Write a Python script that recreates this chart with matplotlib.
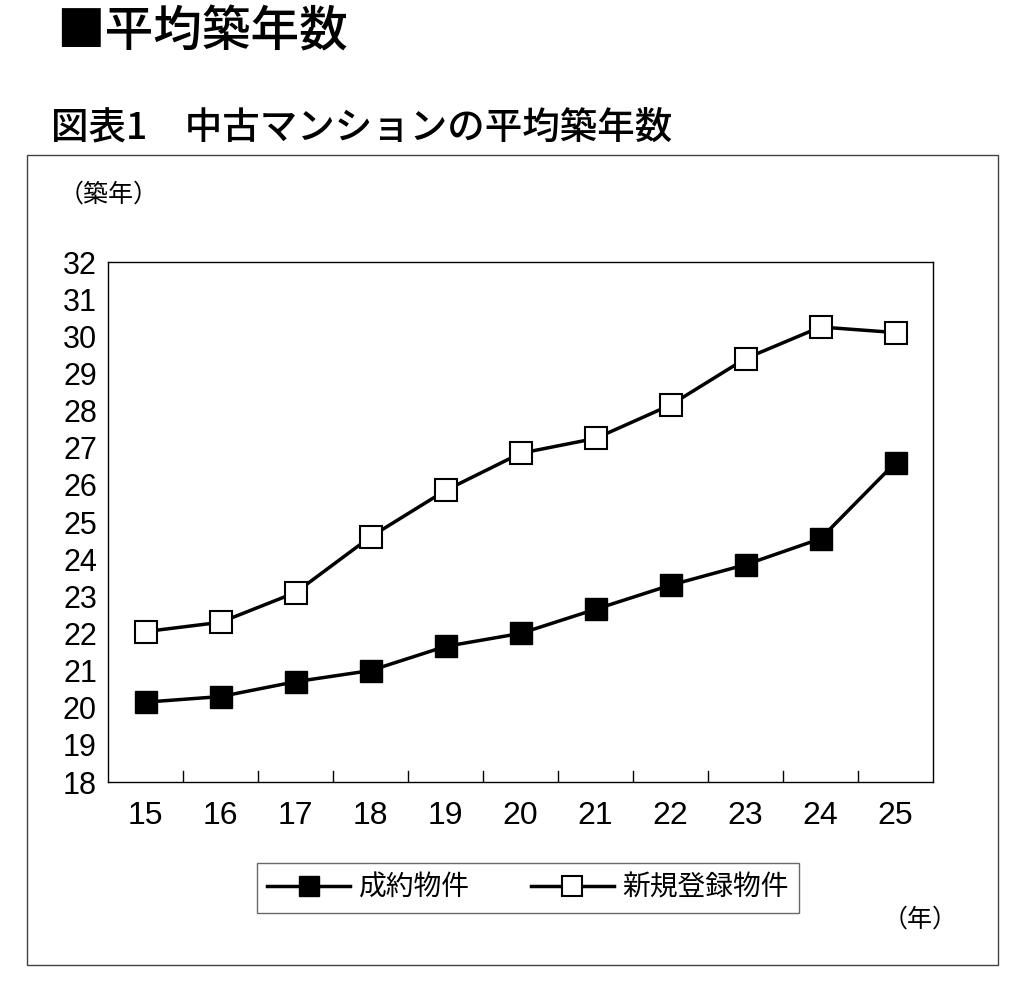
import matplotlib
matplotlib.use("Agg")
import matplotlib.pyplot as plt
from matplotlib.patches import Rectangle
from matplotlib.lines import Line2D

plt.rcParams['font.family'] = ['Noto Sans CJK JP', 'DejaVu Sans']

years = ['15', '16', '17', '18', '19', '20', '21', '22', '23', '24', '25']
contracted = [20.15, 20.3, 20.7, 21.0, 21.65, 22.0, 22.65, 23.3, 23.85, 24.55, 26.6]
registered = [22.05, 22.3, 23.1, 24.6, 25.85, 26.85, 27.25, 28.15, 29.4, 30.25, 30.1]

fig = plt.figure(figsize=(10.24, 9.99), dpi=100)
fig.text(0.055, 0.968, '■平均築年数', fontsize=35, va='center', weight='medium')
fig.text(0.05, 0.872, '図表1　中古マンションの平均築年数', fontsize=27, va='center', weight='medium')
fig.patches.append(Rectangle((27/1024, 1-965/999), 971/1024, 810/999, transform=fig.transFigure,
                             fill=False, edgecolor='#444444', lw=1))
fig.text(0.057, 0.805, '（築年）', fontsize=18, va='center')
fig.text(0.862, 0.079, '（年）', fontsize=18, va='center')

ax = fig.add_axes([108/1024, 217/999, 825/1024, 520/999])
x = list(range(len(years)))
ax.plot(x, contracted, color='black', lw=2.5, marker='s', ms=16, mfc='black', mec='black', label='成約物件')
ax.plot(x, registered, color='black', lw=2.5, marker='s', ms=16, mfc='white', mec='black', mew=1.5, label='新規登録物件')
ax.set_xlim(-0.5, len(years) - 0.5)
ax.set_ylim(18, 32)
ax.set_yticks(range(18, 33))
ax.set_xticks(x)
ax.set_xticklabels(years, family=['Liberation Sans', 'DejaVu Sans'], fontsize=23)
ax.set_yticklabels([str(v) for v in range(18, 33)], family=['Liberation Sans', 'DejaVu Sans'], fontsize=22)
ax.tick_params(axis='x', length=0, pad=14)
ax.tick_params(axis='y', length=0, pad=8)
for b in [i + 0.5 for i in range(len(years) - 1)]:
    ax.plot([b, b], [18, 18.3], color='black', lw=1)
for s in ax.spines.values():
    s.set_linewidth(1)

leg = fig.legend(handles=[Line2D([], [], color='black', lw=2.5, marker='s', ms=14, mfc='black'),
                          Line2D([], [], color='black', lw=2.5, marker='s', ms=14, mfc='white', mew=1.5)],
                 labels=['成約物件', '新規登録物件'], loc='center', bbox_to_anchor=(528/1024, 1-888/999),
                 ncol=2, fontsize=20, frameon=True, fancybox=False, edgecolor='#444444',
                 handlelength=3.0, handletextpad=0.3, columnspacing=2.2, borderpad=0.35)
leg.get_frame().set_linewidth(1)
fig.savefig('out.png', dpi=100)
